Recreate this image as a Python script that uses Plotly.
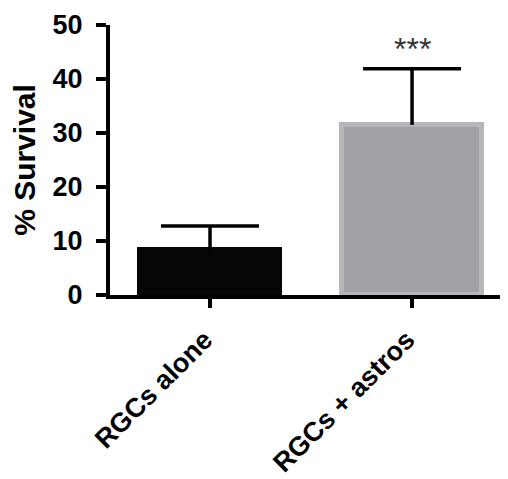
import plotly.graph_objects as go

categories = ["RGCs alone", "RGCs + astros"]
survival = [8.3, 31.5]
sem = [4.5, 10.4]
significance = ["", "***"]
y_ticks = [0, 10, 20, 30, 40, 50]

FONT = "Liberation Sans, Arial, sans-serif"
x_pos = list(range(len(categories)))
tops = [v + e for v, e in zip(survival, sem)]

fig = go.Figure()
fig.add_trace(go.Bar(
    x=x_pos, y=survival, width=0.69,
    marker=dict(color=["#060606", "#a0a1a5"],
                line=dict(color=["#060606", "#b6b7bb"], width=5)),
))
# error bars: vertical stem from bar top to mean+SEM, plus cap
stem_x, stem_y = [], []
for xi, v, t in zip(x_pos, survival, tops):
    stem_x += [xi, xi, None]
    stem_y += [v, t, None]
fig.add_trace(go.Scatter(x=stem_x, y=stem_y, mode="lines",
                         line=dict(color="black", width=3.5), hoverinfo="skip"))
fig.add_trace(go.Scatter(x=x_pos, y=tops, mode="markers",
                         marker=dict(symbol="line-ew", size=70,
                                     line=dict(color="black", width=3.5)),
                         hoverinfo="skip"))
for xi, (t, s) in enumerate(zip(tops, significance)):
    if s:
        fig.add_annotation(x=xi, y=t + 3.7, text=s, showarrow=False,
                           font=dict(family=FONT, size=32, color="#333333"),
                           yanchor="middle")

# page body has an 8px margin; size the figure to fit the 508x479 window
fig.update_layout(
    width=500, height=471,
    margin=dict(l=102, r=3, t=17, b=184),
    paper_bgcolor="white", plot_bgcolor="white",
    showlegend=False, bargap=0,
    font=dict(family=FONT, size=28, color="black"),
)
fig.update_xaxes(
    tickmode="array", tickvals=x_pos,
    ticktext=["<b>%s\u00a0</b>" % c for c in categories],
    range=[-0.495, 1.46], tickangle=-45, automargin=False,
    showline=True, linewidth=4, linecolor="black",
    ticks="outside", ticklen=9, tickwidth=4, tickcolor="black",
    showgrid=False, zeroline=False,
    tickfont=dict(family=FONT, size=27, color="black"),
)
fig.update_yaxes(
    range=[0, 50], tickmode="array", tickvals=y_ticks, automargin=True,
    ticktext=["<b>%d</b>" % t for t in y_ticks],
    showline=True, linewidth=4, linecolor="black",
    ticks="outside", ticklen=10, tickwidth=4, tickcolor="black",
    showgrid=False, zeroline=False,
    tickfont=dict(family=FONT, size=27, color="black"),
    title=dict(text="<b>% Survival</b>", standoff=18,
               font=dict(family=FONT, size=30, color="black")),
    ticklabelstandoff=8,
)
fig.write_html("out.html")
